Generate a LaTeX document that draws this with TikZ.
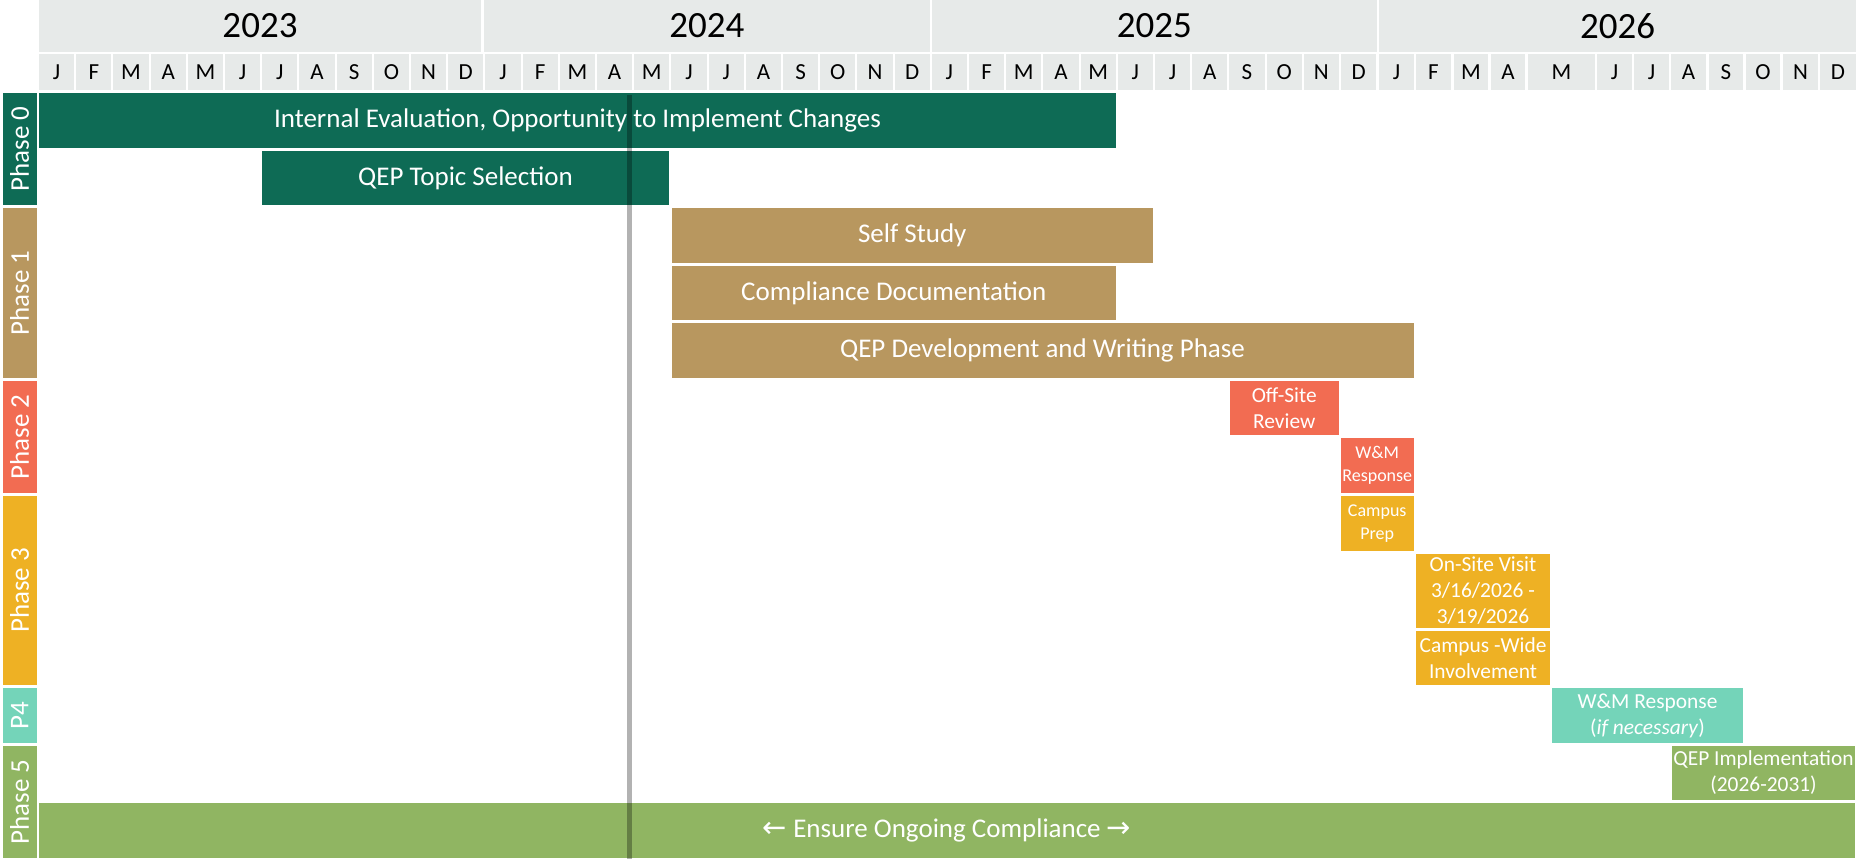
\documentclass[tikz,border=0pt]{standalone}
\usepackage{fontspec}
\setmainfont{Carlito}
\newfontfamily\arrowfont{DejaVu Sans}
\definecolor{hdr}{HTML}{E7EAE9}
\definecolor{phzero}{HTML}{0E6B55}
\definecolor{phone}{HTML}{B8975F}
\definecolor{phtwo}{HTML}{F26C52}
\definecolor{phthree}{HTML}{EEB124}
\definecolor{phfour}{HTML}{74D4B9}
\definecolor{phfive}{HTML}{90B562}
\newcommand\gbox[6]{\node[#6, minimum width={(#4-(#2))*0.5pt}, minimum height={(#5-(#3))*0.5pt}] (#1) at ({((#2)+(#4))/2},{((#3)+(#5))/2})}
\begin{document}
\begin{tikzpicture}[x=0.5pt,y=-0.5pt,
  cell/.style={fill=hdr, inner sep=0pt, outer sep=0pt, text=black},
  barbox/.style={inner sep=0pt, outer sep=0pt, text=white, align=center},
  big/.style={font=\fontsize{13.5}{16}\selectfont},
  mid/.style={font=\fontsize{10.7}{13}\selectfont},
  small/.style={font=\fontsize{9}{11.3}\selectfont},
  tablabel/.style={rotate=90, text=white, inner sep=0pt, font=\fontsize{13.5}{15}\selectfont},
  monthlbl/.style={font=\fontsize{11.5}{13}\selectfont},
  yearlbl/.style={font=\fontsize{18.5}{21}\selectfont},
]
\useasboundingbox (0,0) rectangle (1858,859);

% years
\gbox{y2023}{39}{0}{481}{51.5}{cell, yearlbl} {2023};
\gbox{y2024}{484}{0}{929.5}{51.5}{cell, yearlbl} {2024};
\gbox{y2025}{932}{0}{1376.5}{51.5}{cell, yearlbl} {2025};
\gbox{y2026}{1379}{0}{1856}{51.5}{cell, yearlbl} {2026};

% months 2023-2025
\foreach \yr in {0,1,2}{
  \foreach \m [count=\i from 0] in {J,F,M,A,M,J,J,A,S,O,N,D}{
    \pgfmathsetmacro\xl{39+37.2*(12*\yr+\i)}
    \pgfmathsetmacro\xr{\xl+35.2}
    \gbox{m\yr-\i}{\xl}{54.3}{\xr}{90}{cell, monthlbl} {\m};
  }
}
% months 2026
\foreach \m/\a/\b [count=\i from 0] in {J/1379/1414, F/1416/1451, M/1454/1488, A/1491/1525, M/1528/1595, J/1597/1632, J/1634/1669, A/1671/1706, S/1709/1743, O/1746/1780, N/1783/1818, D/1820/1856}{
  \gbox{m3-\i}{\a}{54.3}{\b}{90}{cell, monthlbl} {\m};
}

% phase tabs
\gbox{tab0}{2.7}{93}{36.7}{205}{barbox, fill=phzero} {};
\gbox{tab1}{2.7}{208}{36.7}{378}{barbox, fill=phone} {};
\gbox{tab2}{2.7}{381}{36.7}{493}{barbox, fill=phtwo} {};
\gbox{tab3}{2.7}{496}{36.7}{685}{barbox, fill=phthree} {};
\gbox{tab4}{2.7}{688}{36.7}{743}{barbox, fill=phfour} {};
\gbox{tab5}{2.7}{746}{36.7}{858}{barbox, fill=phfive} {};
\node[tablabel] (tl0) at (tab0.center) {Phase 0};
\node[tablabel] (tl1) at (tab1.center) {Phase 1};
\node[tablabel] (tl2) at (tab2.center) {Phase 2};
\node[tablabel] (tl3) at (tab3.center) {Phase 3};
\node[tablabel] (tl4) at (tab4.center) {P4};
\node[tablabel] (tl5) at (tab5.center) {Phase 5};

% bars
\gbox{ie}{39}{93}{1116}{148}{barbox, big, fill=phzero} {Internal Evaluation, Opportunity to Implement Changes};
\gbox{topic}{262}{151}{669}{205}{barbox, big, fill=phzero} {QEP Topic Selection};
\gbox{self}{671.5}{208}{1153}{263}{barbox, big, fill=phone} {Self Study};
\gbox{comp}{671.5}{266}{1116}{320}{barbox, big, fill=phone} {Compliance Documentation};
\gbox{dev}{671.5}{323}{1413.5}{378}{barbox, big, fill=phone} {QEP Development and Writing Phase};
\gbox{offsite}{1229.5}{381}{1339}{435}{barbox, mid, fill=phtwo} {Off-Site\\Review};
\gbox{wmr}{1341}{438}{1413.5}{493}{barbox, small, fill=phtwo} {W\&M\\Response};
\gbox{prep}{1341}{496}{1413.5}{551}{barbox, small, fill=phthree} {Campus\\Prep};
\gbox{onsite}{1416}{554}{1550}{628}{barbox, mid, fill=phthree} {On-Site Visit\\3/16/2026 -\\3/19/2026};
\gbox{wide}{1416}{631}{1550}{685}{barbox, mid, fill=phthree} {Campus -Wide\\Involvement};
\gbox{wmnec}{1552}{688}{1743}{743}{barbox, mid, fill=phfour} {W\&M Response\\(\textit{if necessary})};
\gbox{impl}{1672}{746}{1855}{800}{barbox, mid, fill=phfive} {QEP Implementation\\(2026-2031)};
\gbox{ensure}{39}{803}{1855}{858}{barbox, big, fill=phfive} {{\arrowfont\fontsize{14.5}{15}\selectfont ←} Ensure Ongoing Compliance {\arrowfont\fontsize{14.5}{15}\selectfont →}};

% today line
\coordinate (todaytop) at (629.5,95);
\coordinate (todaybot) at (629.5,859);
\draw[line width=2.5pt, black, opacity=0.3] (todaytop) -- (todaybot);
\end{tikzpicture}
\end{document}
